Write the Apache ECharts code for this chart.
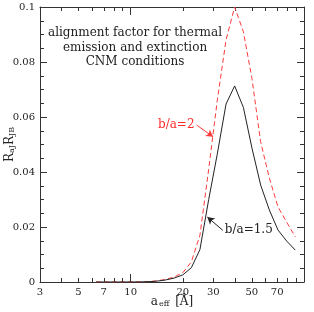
<!DOCTYPE html>
<html>
<head>
<meta charset="utf-8">
<script src="https://cdn.jsdelivr.net/npm/echarts@6/dist/echarts.min.js"></script>
<style>html,body{margin:0;padding:0;background:#fff}#c{width:314px;height:312px}</style>
</head>
<body>
<div id="c"></div>
<script>
var aEff = [6.31, 7.08, 7.94, 8.91, 10.0, 11.2, 12.6, 14.1, 15.8, 17.8, 20.0, 22.4, 25.1, 28.2, 31.6, 35.5, 39.8, 44.7, 50.1, 56.2, 63.1, 70.8, 79.4, 89.1];
var ratio15 = [0, 0, 0, 0, 0.00001, 0.00003, 0.0001, 0.0003, 0.0007, 0.0014, 0.0026, 0.0052, 0.0118, 0.0300, 0.0465, 0.0647, 0.0713, 0.0635, 0.0487, 0.0353, 0.0262, 0.0189, 0.0149, 0.0116];
var ratio2 = [0, 0, 0, 0, 0.00001, 0.00004, 0.00012, 0.0004, 0.0009, 0.0018, 0.0034, 0.0073, 0.0170, 0.0410, 0.0660, 0.0880, 0.1000, 0.0910, 0.0740, 0.0510, 0.0378, 0.0273, 0.0218, 0.0164];
var xLabelValues = [3, 5, 7, 10, 20, 30, 50, 70];
var xMinorTicks = [4, 5, 6, 7, 8, 9, 20, 30, 40, 50, 60, 70, 80, 90];
var xMajorTicks = [10];
var titleLines = ['alignment factor for thermal', 'emission and extinction', 'CNM conditions'];
var label2 = 'b/a=2';
var label15 = 'b/a=1.5';
var arrow2 = [[24.0, 0.0571], [29.9, 0.0528]];
var arrow15 = [[34.0, 0.0188], [27.7, 0.0236]];

var FONT = 'DejaVu Serif';
var AX = '#333';

function pairs(xs, ys) { return xs.map(function (x, i) { return [x, ys[i]]; }); }

function xAx(pos, ticks, len, showLine, showLabel) {
  return {
    type: 'log', logBase: 10, min: 3, max: 100, position: pos,
    axisLine: { show: showLine, lineStyle: { color: AX, width: 1 } },
    axisTick: { show: true, inside: true, length: len, customValues: ticks, lineStyle: { color: AX, width: 1 } },
    axisLabel: showLabel ? { show: true, customValues: xLabelValues, margin: 5, color: '#222', fontFamily: FONT, fontSize: 10,
      formatter: function (v) { return String(Math.round(v)); } } : { show: false },
    splitLine: { show: false }, minorTick: { show: false }
  };
}

var chart = echarts.init(document.getElementById('c'), null, { renderer: 'canvas' });
chart.setOption({
  animation: false,
  backgroundColor: '#fff',
  grid: { left: 40, right: 10, top: 7, bottom: 30, containLabel: false, outerBoundsMode: 'none' },
  xAxis: [
    Object.assign(xAx('bottom', xMinorTicks, 4, true, true), {
      name: '{a|a}{s|eff}{a| [Å]}', nameLocation: 'middle', nameGap: 12, nameMoveOverlap: false,
      nameTextStyle: { color: '#222', fontFamily: FONT, rich: {
        a: { fontSize: 12, fontFamily: FONT, color: '#222', lineHeight: 14, verticalAlign: 'bottom' },
        s: { fontSize: 8, fontFamily: FONT, color: '#222', lineHeight: 14, verticalAlign: 'bottom', padding: [0, 2, 0, 1] } } }
    }),
    xAx('bottom', xMajorTicks, 8, false, false),
    xAx('top', xMinorTicks, 4, true, false),
    xAx('top', xMajorTicks, 8, false, false)
  ],
  yAxis: [
    {
      type: 'value', min: 0, max: 0.1, interval: 0.02, position: 'left',
      axisLine: { show: true, lineStyle: { color: AX, width: 1 } },
      axisTick: { show: true, inside: true, length: 7, lineStyle: { color: AX } },
      minorTick: { show: true, splitNumber: 4, length: 4, lineStyle: { color: AX } },
      axisLabel: { margin: 5, color: '#222', fontFamily: FONT, fontSize: 10 },
      splitLine: { show: false }, minorSplitLine: { show: false },
      name: '{r|R}{s|aJ}{r|R}{s|JB}', nameLocation: 'middle', nameRotate: 90, nameGap: 24, nameMoveOverlap: false,
      nameTextStyle: { color: '#222', fontFamily: FONT, rich: {
        r: { fontSize: 12, fontFamily: FONT, color: '#222', lineHeight: 14, verticalAlign: 'bottom' },
        s: { fontSize: 8, fontFamily: FONT, color: '#222', lineHeight: 14, verticalAlign: 'bottom' } } }
    },
    {
      type: 'value', min: 0, max: 0.1, interval: 0.02, position: 'right',
      axisLine: { show: true, lineStyle: { color: AX, width: 1 } },
      axisTick: { show: true, inside: true, length: 7, lineStyle: { color: AX } },
      minorTick: { show: true, splitNumber: 4, length: 4, lineStyle: { color: AX } },
      axisLabel: { show: false }, splitLine: { show: false }
    }
  ],
  graphic: titleLines.map(function (t, i) {
    return { type: 'text', x: 135, y: 33 + i * 14.5, silent: true,
      style: { text: t, fill: '#222', font: '12px "' + FONT + '"', textAlign: 'center', textVerticalAlign: 'middle' } };
  }),
  series: [
    {
      type: 'line', name: label2, data: pairs(aEff, ratio2), xAxisIndex: 0, yAxisIndex: 0,
      showSymbol: false, symbol: 'none', smooth: false,
      lineStyle: { color: '#ff3b3b', width: 1, type: [5, 3] },
      markLine: { silent: true, symbol: ['none', 'arrow'], symbolSize: [6, 7], label: { show: false },
        lineStyle: { color: '#ff3b3b', width: 1, type: 'solid' },
        data: [[{ coord: arrow2[0] }, { coord: arrow2[1] }]] },
      markPoint: { silent: true, symbol: 'circle', symbolSize: 0,
        label: { show: true, position: 'left', distance: 2, color: '#ff2a2a', fontFamily: FONT, fontSize: 12, formatter: label2 },
        data: [{ coord: arrow2[0] }] }
    },
    {
      type: 'line', name: label15, data: pairs(aEff, ratio15), xAxisIndex: 0, yAxisIndex: 0,
      showSymbol: false, symbol: 'none', smooth: false,
      lineStyle: { color: '#222', width: 1, type: 'solid' },
      markLine: { silent: true, symbol: ['none', 'arrow'], symbolSize: [6, 7], label: { show: false },
        lineStyle: { color: '#222', width: 1, type: 'solid' },
        data: [[{ coord: arrow15[0] }, { coord: arrow15[1] }]] },
      markPoint: { silent: true, symbol: 'circle', symbolSize: 0,
        label: { show: true, position: 'right', distance: 2, color: '#222', fontFamily: FONT, fontSize: 12, formatter: label15 },
        data: [{ coord: arrow15[0] }] }
    }
  ]
});
</script>
</body>
</html>
